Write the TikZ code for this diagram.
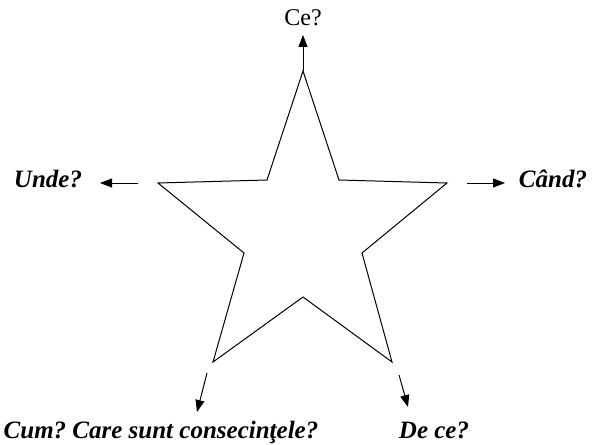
\documentclass[tikz,border=0pt]{standalone}
\usepackage{fontspec}
\setmainfont{Liberation Serif}
\usetikzlibrary{arrows.meta}
\frenchspacing

\begin{document}
\begin{tikzpicture}[x=0.5pt, y=-0.5pt, font=\fontsize{12}{14}\selectfont,
  arr/.style={-{Triangle[length=6pt,width=4.5pt]}, line width=0.5pt},
  intrebare/.style={font=\fontsize{12.5}{15}\selectfont\bfseries\itshape, anchor=base, inner sep=0pt}]
  \useasboundingbox (0,0) rectangle (593,444);
  % star points
  \coordinate (varf) at (303,71);
  \coordinate (stanga) at (158,183);
  \coordinate (dreapta) at (447,183);
  \coordinate (josst) at (213,362);
  \coordinate (josdr) at (392,362);
  \draw[line width=0.5pt] (varf) -- (339,180) -- (dreapta) -- (362,253) -- (josdr)
    -- (303,297) -- (josst) -- (244,253) -- (stanga) -- (267,180) -- cycle;
  % arrow ends
  \coordinate (ce0) at (303,35);
  \coordinate (unde1) at (138,183);
  \coordinate (unde0) at (100,183);
  \coordinate (cand1) at (467,183);
  \coordinate (cand0) at (505,183);
  \coordinate (cum1) at (207,373);
  \coordinate (cum0) at (197,412);
  \coordinate (dece1) at (399,375);
  \coordinate (dece0) at (408,407);
  % questions
  \node[anchor=base, inner sep=0pt] (ce) at (303,26) {Ce?};
  \node[intrebare] (unde) at (48,187) {Unde?};
  \node[intrebare] (cand) at (553,187) {Când?};
  \node[intrebare] (cum) at (161,438) {Cum? Care sunt consecinţele?};
  \node[intrebare] (dece) at (434,438) {De ce?};
  \draw[arr] (varf) -- (ce0);
  \draw[arr] (unde1) -- (unde0);
  \draw[arr] (cand1) -- (cand0);
  \draw[arr] (cum1) -- (cum0);
  \draw[arr] (dece1) -- (dece0);
\end{tikzpicture}
\end{document}
